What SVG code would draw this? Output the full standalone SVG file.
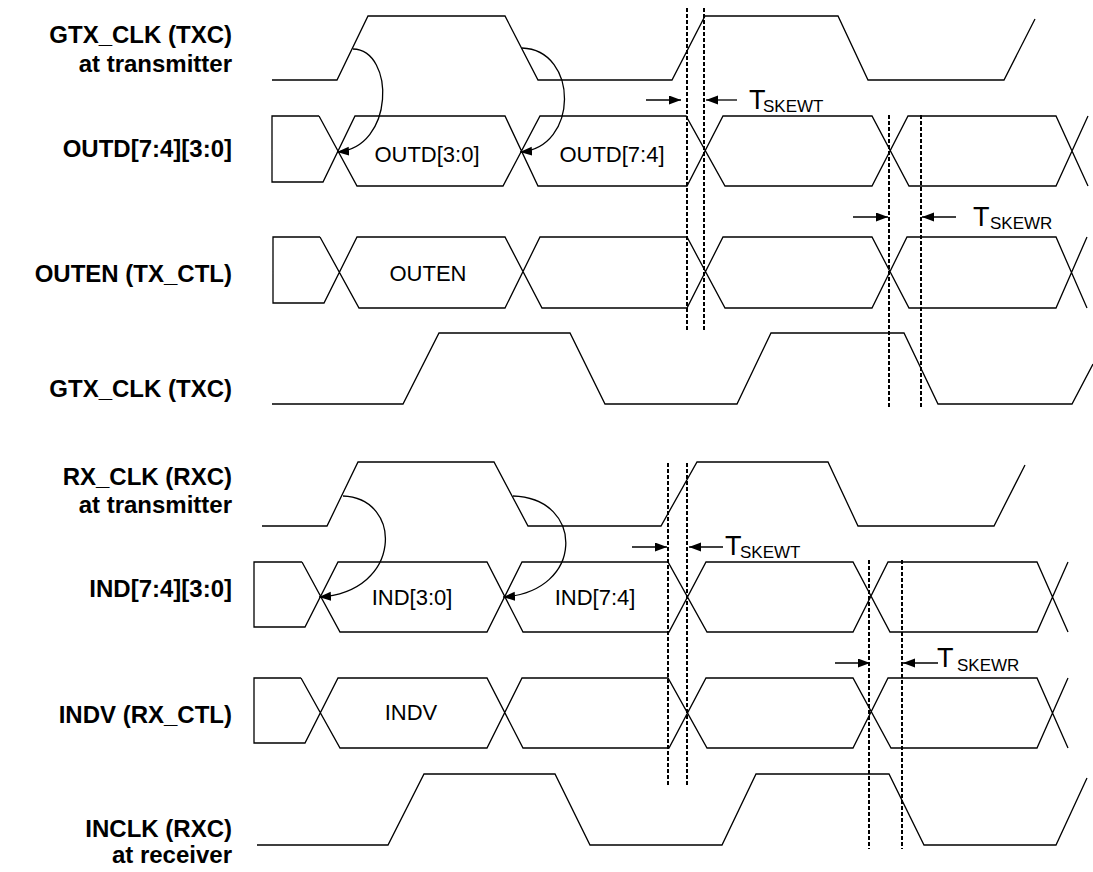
<svg xmlns="http://www.w3.org/2000/svg" width="1093" height="872" viewBox="0 0 1093 872">
<defs>
<marker id="ah" markerUnits="userSpaceOnUse" markerWidth="13" markerHeight="10" refX="12" refY="4.5" orient="auto">
<path d="M0,0 L12,4.5 L0,9 z" fill="#000"/>
</marker>
<style>
.sig{fill:none;stroke:#000;stroke-width:1.3;stroke-linejoin:miter}
.dash{fill:none;stroke:#000;stroke-width:2;stroke-dasharray:4,2}
.arr{fill:none;stroke:#000;stroke-width:1.3;marker-end:url(#ah)}
.lbl{font-family:"Liberation Sans",Arial,sans-serif;font-weight:bold;font-size:24px;text-anchor:end;fill:#000}
.dt{font-family:"Liberation Sans",Arial,sans-serif;font-size:22px;text-anchor:middle;fill:#000}
.tb{font-family:"Liberation Sans",Arial,sans-serif;font-size:27px;fill:#000}
.ts{font-family:"Liberation Sans",Arial,sans-serif;font-size:17px;fill:#000}
</style>
</defs>
<rect width="1093" height="872" fill="#fff"/>

<g id="labels">
<text class="lbl" x="232" y="43">GTX_CLK (TXC)</text>
<text class="lbl" x="232" y="72">at transmitter</text>
<text class="lbl" x="232" y="157">OUTD[7:4][3:0]</text>
<text class="lbl" x="232" y="282">OUTEN (TX_CTL)</text>
<text class="lbl" x="232" y="397">GTX_CLK (TXC)</text>
<text class="lbl" x="232" y="485">RX_CLK (RXC)</text>
<text class="lbl" x="232" y="513">at transmitter</text>
<text class="lbl" x="232" y="597">IND[7:4][3:0]</text>
<text class="lbl" x="232" y="723">INDV (RX_CTL)</text>
<text class="lbl" x="232" y="837">INCLK (RXC)</text>
<text class="lbl" x="232" y="863">at receiver</text>
</g>

<g id="sig-gtxclk-tx">
<polyline class="sig" points="272,80 337,80 368,16 505,16 538,80 672,80 705,16 838,16 868,80 1004,80 1035,19"/>
</g>
<g id="sig-outd">
<path class="sig" d="M319,116 H272 V182 H323 L355,116 H505 L538,186 H687 L723,116 H872 L909,186 H1056 L1088,116 M319,116 L357,186 H503 L540,116 H686 L725,186 H872 L908,116 H1056 L1088,186"/>
<text class="dt" x="427" y="162">OUTD[3:0]</text>
<text class="dt" x="612" y="162">OUTD[7:4]</text>
</g>
<g id="sig-outen">
<path class="sig" d="M320,237 H273 V303 H324 L357,237 H505 L542,308 H687 L723,237 H872 L909,308 H1056 L1087,237 M320,237 L359,308 H505 L540,237 H687 L725,308 H872 L907,237 H1056 L1087,308"/>
<text class="dt" x="428" y="281">OUTEN</text>
</g>
<g id="sig-gtxclk">
<polyline class="sig" points="272,404 403,404 439,333 570,333 605,404 737,404 771,333 904,333 938,404 1072,404 1093,364"/>
</g>
<g id="sig-rxclk-tx">
<polyline class="sig" points="262,526 327,526 358,462 494,462 528,526 661,526 697,462 828,462 858,526 994,526 1025,465"/>
</g>
<g id="sig-ind">
<path class="sig" d="M302,562 H254 V627 H305 L338,562 H487 L523,632 H669 L706,562 H853 L890,632 H1037 L1068,562 M302,562 L340,632 H487 L522,562 H668 L707,632 H853 L888,562 H1037 L1068,632"/>
<text class="dt" x="412" y="605">IND[3:0]</text>
<text class="dt" x="595" y="605">IND[7:4]</text>
</g>
<g id="sig-indv">
<path class="sig" d="M301,678 H254 V743 H305 L338,678 H487 L523,748 H669 L706,678 H853 L891,748 H1037 L1068,678 M301,678 L340,748 H487 L522,678 H668 L707,748 H853 L888,678 H1037 L1068,748"/>
<text class="dt" x="411" y="720">INDV</text>
</g>
<g id="sig-inclk">
<polyline class="sig" points="257,845 388,845 424,774 555,774 590,845 722,845 756,774 889,774 924,845 1056,845 1087,778"/>
</g>

<g id="connectors">
<line class="dash" x1="687" y1="8" x2="687" y2="330"/>
<line class="dash" x1="704" y1="8" x2="704" y2="330"/>
<line class="dash" x1="889" y1="115" x2="889" y2="408"/>
<line class="dash" x1="921" y1="115" x2="921" y2="408"/>
<line class="dash" x1="668" y1="463" x2="668" y2="786"/>
<line class="dash" x1="687" y1="463" x2="687" y2="786"/>
<line class="dash" x1="869" y1="560" x2="869" y2="849"/>
<line class="dash" x1="902" y1="560" x2="902" y2="849"/>

<path class="arr" d="M353,49 C395,50 395,148 337,152"/>
<path class="arr" d="M522,48 C579,50 579,148 520,152"/>
<path class="arr" d="M343,496 C403,498 403,592 319,597"/>
<path class="arr" d="M513,496 C585,498 585,592 503,597"/>

<path class="arr" d="M646,100 H681"/>
<path class="arr" d="M737,100 H706"/>
<path class="arr" d="M853,217 H888"/>
<path class="arr" d="M956,217 H922"/>
<path class="arr" d="M632,547 H667"/>
<path class="arr" d="M723,547 H689"/>
<path class="arr" d="M835,663 H870"/>
<path class="arr" d="M938,663 H903"/>
</g>

<g id="skew-labels">
<text class="tb" x="749" y="109">T</text><text class="ts" x="763" y="112">SKEWT</text>
<text class="tb" x="973" y="226">T</text><text class="ts" x="990" y="229">SKEWR</text>
<text class="tb" x="725" y="555">T</text><text class="ts" x="740" y="558">SKEWT</text>
<text class="tb" x="937" y="667">T</text><text class="ts" x="957" y="671">SKEWR</text>
</g>
</svg>
